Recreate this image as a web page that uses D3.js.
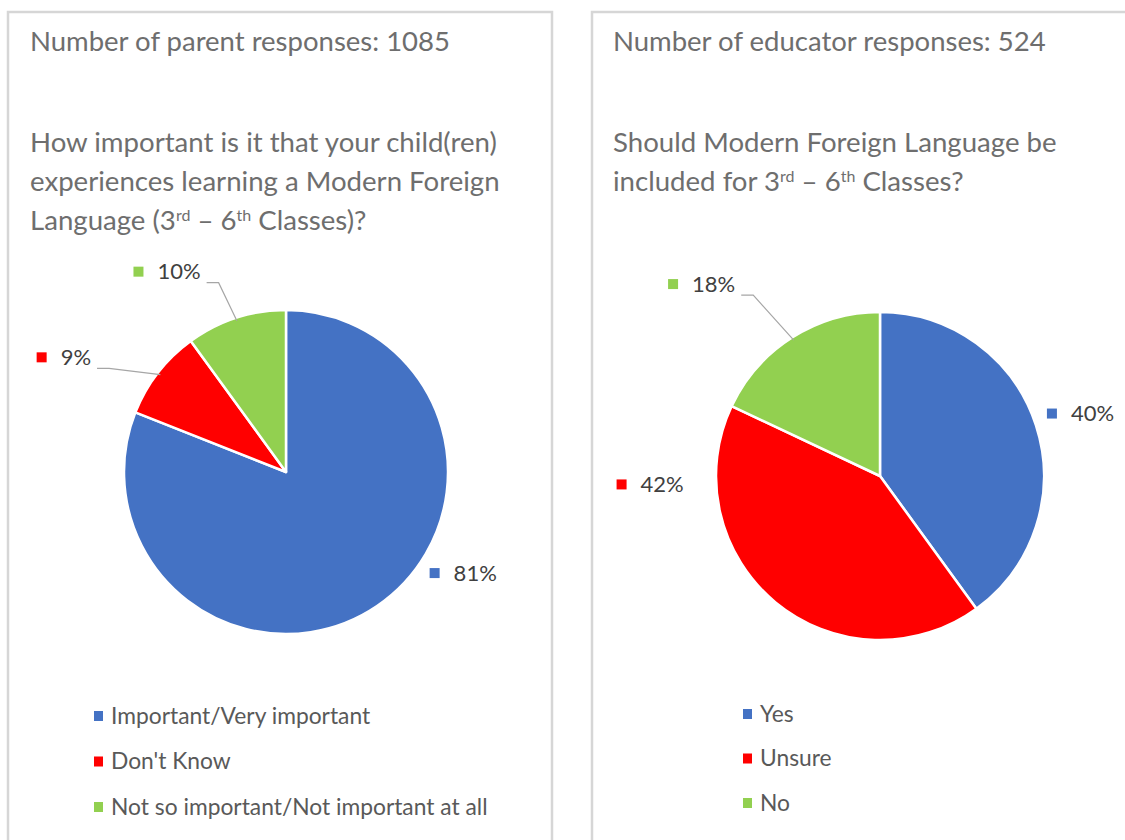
<!DOCTYPE html>
<html>
<head>
<meta charset="utf-8">
<script src="https://cdn.jsdelivr.net/npm/d3@7"></script>
<style>
  body { margin: 0; background: #fff; }
  svg text { font-family: Lato, "Open Sans", sans-serif; }
</style>
</head>
<body>
<div id="chart"></div>
<script>

// survey data
var parentCats = ["Important/Very important", "Don't Know", "Not so important/Not important at all"];
var parentVals = [81, 9, 10];
var educatorCats = ["Yes", "Unsure", "No"];
var educatorVals = [40, 42, 18];
var sliceColors = ["#4472C4", "#FF0000", "#92D050"];

var parentCount = "Number of parent responses: 1085";
var educatorCount = "Number of educator responses: 524";

// excel "best fit" label spots: [angle in degrees clockwise from 12 o'clock, distance from centre]
var parentSpots = [[119.7, 204], [297.3, 250], [329.3, 233]];
var educatorSpots = [[72.7, 210], [267.9, 230], [317.1, 262]];
var parentLeaders = [false, true, true];
var educatorLeaders = [false, false, true];

var svg = d3.select("#chart").append("svg")
  .attr("width", 1125)
  .attr("height", 840);

svg.append("rect").attr("width", 1125).attr("height", 840).attr("fill", "#fff");

var fmt = d3.format(".0%");
var titleColor = "#6e6e6e";

function drawPanel(opts) {
  var g = svg.append("g");

  g.append("rect")
    .attr("x", opts.boxX)
    .attr("y", 12)
    .attr("width", opts.boxW)
    .attr("height", 900)
    .attr("fill", "none")
    .attr("stroke", "#d6d6d6")
    .attr("stroke-width", 2.5);

  g.append("text")
    .attr("x", opts.textX)
    .attr("y", 51)
    .attr("fill", titleColor)
    .style("font-size", "27.5px")
    .text(opts.count);

  // question, each line is a list of [text, superscript?] pieces
  opts.question.forEach(function(line, i) {
    var t = g.append("text")
      .attr("x", opts.textX)
      .attr("y", 152 + i * 39)
      .attr("fill", titleColor)
      .style("font-size", "27.6px");
    line.forEach(function(part) {
      var sp = t.append("tspan").text(part[0]);
      if (part[1]) {
        sp.attr("baseline-shift", "super").style("font-size", "16px");
      }
    });
  });

  var total = d3.sum(opts.vals);
  var pie = d3.pie().sort(null).value(function(d) { return d; });
  var arcs = pie(opts.vals);
  var arc = d3.arc().innerRadius(0).outerRadius(opts.r);
  var leaderArc = d3.arc().innerRadius(opts.r - 3).outerRadius(opts.r - 3);

  var pg = g.append("g").attr("transform", "translate(" + opts.cx + "," + opts.cy + ")");

  pg.selectAll("path")
    .data(arcs)
    .enter()
    .append("path")
    .attr("d", arc)
    .attr("fill", function(d, i) { return sliceColors[i]; })
    .attr("stroke", "#fff")
    .attr("stroke-width", 2.5)
    .attr("stroke-linejoin", "round");

  arcs.forEach(function(d, i) {
    var spot = opts.spots[i];
    var p = d3.pointRadial(spot[0] * Math.PI / 180, spot[1]);
    var lab = pg.append("g").attr("transform", "translate(" + p[0] + "," + p[1] + ")");
    var txt = lab.append("text")
      .attr("dy", "0.35em")
      .attr("fill", "#404040")
      .style("font-size", "22px")
      .text(fmt(d.data / total));
    var w = txt.node().getComputedTextLength();
    var gw = 10 + 14 + w;
    lab.insert("rect", "text")
      .attr("x", -gw / 2)
      .attr("y", -5)
      .attr("width", 10)
      .attr("height", 10)
      .attr("fill", sliceColors[i]);
    txt.attr("x", -gw / 2 + 24);

    if (opts.leaders[i]) {
      var sx = p[0] + gw / 2 + 6;
      var sy = p[1] + 11;
      var end = leaderArc.centroid(d);
      pg.append("polyline")
        .attr("points", [[sx, sy], [sx + 12, sy], end].join(" "))
        .attr("fill", "none")
        .attr("stroke", "#a6a6a6")
        .attr("stroke-width", 1.2);
    }
  });

  // legend
  var lg = g.append("g");
  opts.cats.forEach(function(c, i) {
    var y = opts.legY + i * opts.legStep;
    lg.append("rect")
      .attr("x", opts.legX)
      .attr("y", y - 5)
      .attr("width", 9)
      .attr("height", 10)
      .attr("fill", sliceColors[i]);
    lg.append("text")
      .attr("x", opts.legX + 17)
      .attr("y", y)
      .attr("dy", "0.35em")
      .attr("fill", "#595959")
      .style("font-size", "22.8px")
      .text(c);
  });
}

drawPanel({
  boxX: 8, boxW: 544, textX: 30,
  count: parentCount,
  question: [
    [["How important is it that your child(ren)"]],
    [["experiences learning a Modern Foreign"]],
    [["Language (3"], ["rd", true], [" \u2013 6"], ["th", true], [" Classes)?"]]
  ],
  vals: parentVals, cats: parentCats,
  spots: parentSpots, leaders: parentLeaders,
  cx: 286, cy: 472, r: 162,
  legX: 94, legY: 716, legStep: 45.5
});

drawPanel({
  boxX: 592, boxW: 600, textX: 613,
  count: educatorCount,
  question: [
    [["Should Modern Foreign Language be"]],
    [["included for 3"], ["rd", true], [" \u2013 6"], ["th", true], [" Classes?"]]
  ],
  vals: educatorVals, cats: educatorCats,
  spots: educatorSpots, leaders: educatorLeaders,
  cx: 880, cy: 476, r: 164,
  legX: 743, legY: 714, legStep: 44.5
});

</script>
</body>
</html>
